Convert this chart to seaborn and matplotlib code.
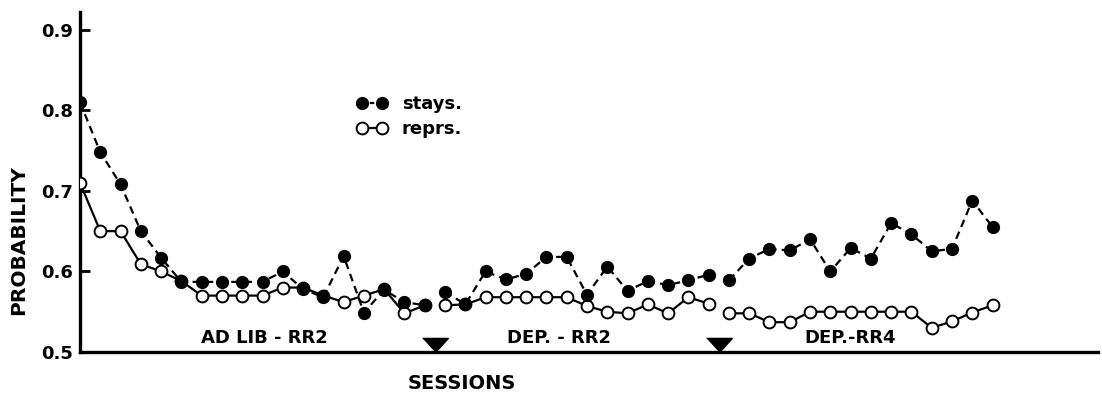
import numpy as np
import pandas as pd
import matplotlib
matplotlib.use("Agg")
import matplotlib.pyplot as plt
import seaborn as sns
from matplotlib.lines import Line2D

# ---- data ----
phase_names = ["AD LIB - RR2", "DEP. - RR2", "DEP.-RR4"]
phase_lengths = [18, 14, 14]

stays = [0.81, 0.748, 0.708, 0.65, 0.617, 0.587, 0.587, 0.587, 0.587, 0.587,
         0.60, 0.578, 0.568, 0.619, 0.549, 0.577, 0.562, 0.558,
         0.575, 0.559, 0.60, 0.59, 0.597, 0.618, 0.618, 0.571, 0.606, 0.576,
         0.588, 0.583, 0.589, 0.596,
         0.589, 0.616, 0.628, 0.626, 0.64, 0.60, 0.629, 0.616, 0.66, 0.646,
         0.625, 0.628, 0.688, 0.655]

reprs = [0.71, 0.65, 0.65, 0.609, 0.60, 0.588, 0.57, 0.57, 0.57, 0.57,
         0.58, 0.58, 0.57, 0.562, 0.57, 0.578, 0.548, 0.558,
         0.558, 0.559, 0.568, 0.568, 0.568, 0.568, 0.568, 0.557, 0.55, 0.548,
         0.559, 0.548, 0.568, 0.56,
         0.548, 0.548, 0.537, 0.537, 0.55, 0.55, 0.55, 0.55, 0.55, 0.55,
         0.53, 0.538, 0.549, 0.558]

phase_change_sessions = [18.5, 32.5]
y_ticks = [0.5, 0.6, 0.7, 0.8, 0.9]
y_tick_labels = ["0.5", "0.6", "0.7", "0.8", "0.9"]

# ---- build table ----
phase = np.repeat(np.arange(len(phase_lengths)), phase_lengths)
sessions = np.arange(1, len(stays) + 1)
df = pd.DataFrame({"session": sessions, "stays": stays, "reprs": reprs, "phase": phase})

sns.set_theme(style="white")
plt.rcParams["font.family"] = ["DejaVu Sans"]
plt.rcParams["font.weight"] = "bold"
plt.rcParams["text.color"] = "black"
plt.rcParams["axes.labelcolor"] = "black"

fig = plt.figure(figsize=(11.02, 3.94), dpi=100)
ax = fig.add_axes([80 / 1102, 42 / 394, 1018 / 1102, 340 / 394])

lw = 1.6
sns.lineplot(data=df, x="session", y="reprs", units="phase", estimator=None,
             sort=False, ax=ax, color="black", lw=lw, linestyle="-",
             marker="o", ms=8.5, mfc="white", mec="black", mew=1.4, zorder=3)
sns.lineplot(data=df, x="session", y="stays", units="phase", estimator=None,
             sort=False, ax=ax, color="black", lw=lw, linestyle=(0, (3.5, 2.3)),
             marker="o", ms=8.5, mfc="black", mec="black", mew=1.0, zorder=4)

# phase-change triangles
tri = [(-1, 0.55), (1, 0.55), (0, -0.55)]
ax.plot(phase_change_sessions, [0.509] * len(phase_change_sessions),
        linestyle="none", marker=tri, ms=18.5, color="black", zorder=5,
        clip_on=False)

# phase labels
phase_label_x = [10.1, 24.6, 39.0]
for name, xc in zip(phase_names, phase_label_x):
    ax.text(xc, 0.517, name, ha="center", va="center", fontsize=13,
            fontweight="bold", color="black")

ax.set_xlim(1, 51.2)
ax.set_ylim(0.5, 0.922)
ax.set_yticks(y_ticks)
ax.set_yticklabels(y_tick_labels, fontsize=13, fontweight="bold", color="black")
ax.set_xticks([])
ax.tick_params(axis="y", direction="in", length=7, width=2, pad=5,
               left=True, colors="black")

for s in ["top", "right"]:
    ax.spines[s].set_visible(False)
for s in ["left", "bottom"]:
    ax.spines[s].set_linewidth(2.4)
    ax.spines[s].set_color("black")

ax.set_xlabel("SESSIONS", fontsize=14, fontweight="bold", color="black")
ax.xaxis.label.set_verticalalignment("center")
ax.xaxis.set_label_coords(0.375, -0.092)
ax.set_ylabel("PROBABILITY", fontsize=14.5, fontweight="bold", color="black")
ax.yaxis.label.set_verticalalignment("center")
ax.yaxis.set_label_coords(-0.0605, 0.33)

handles = [
    Line2D([], [], color="black", lw=lw, linestyle=(0, (2, 1.5)), marker="o",
           ms=8.5, mfc="black", mec="black"),
    Line2D([], [], color="black", lw=lw, linestyle="-", marker="o",
           ms=8.5, mfc="white", mec="black", mew=1.4),
]
leg = ax.legend(handles, ["stays.", "reprs."], loc="upper left",
                bbox_to_anchor=(356.6 / 1102, 1 - 95 / 394),
                bbox_transform=fig.transFigure, frameon=False, numpoints=2,
                handlelength=1.71, handletextpad=0.8, labelspacing=0.4,
                borderpad=0, borderaxespad=0,
                prop={"size": 13, "weight": "bold"})
for t in leg.get_texts():
    t.set_color("black")

fig.savefig("out.png", dpi=100, facecolor="white")
